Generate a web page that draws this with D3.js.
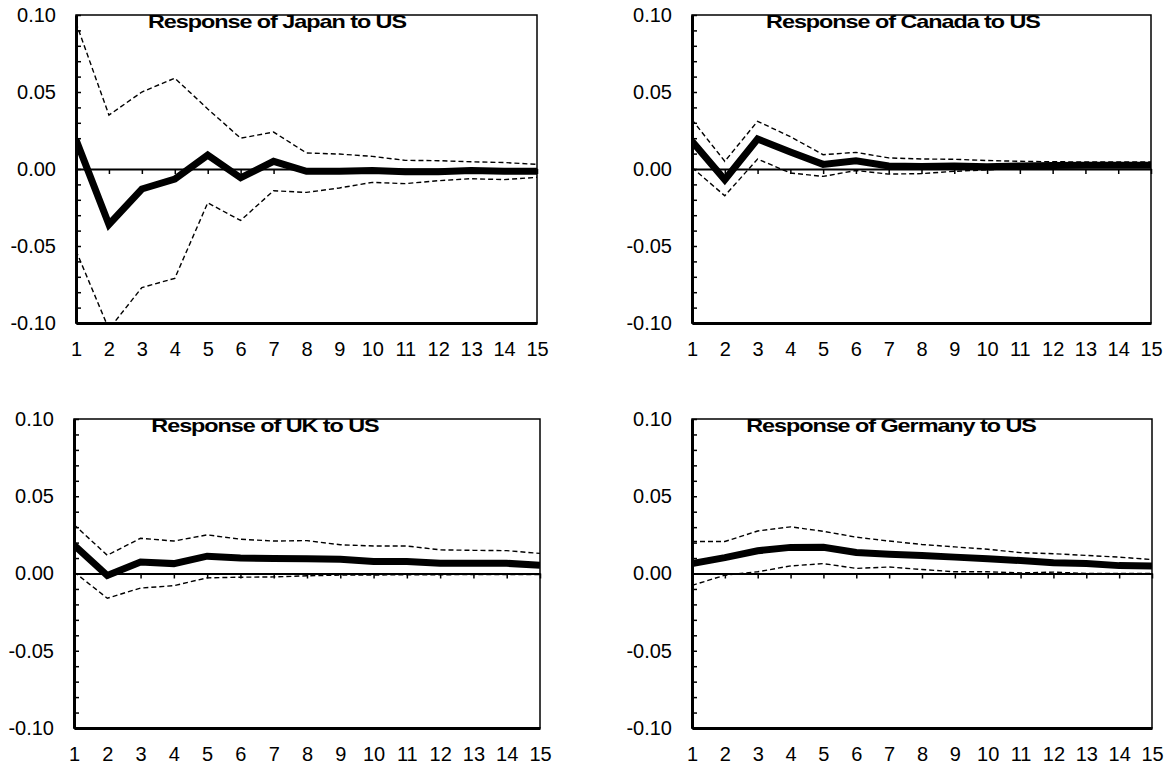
<!DOCTYPE html>
<html>
<head>
<meta charset="utf-8">
<script src="https://cdn.jsdelivr.net/npm/d3@7"></script>
<style>
  body { margin: 0; background: #fff; }
  svg { display: block; font-family: "Liberation Sans", Arial, sans-serif; }
</style>
</head>
<body>
<svg id="chart" width="1169" height="768"></svg>
<script>
const periods = [1, 2, 3, 4, 5, 6, 7, 8, 9, 10, 11, 12, 13, 14, 15];
const yTickValues = [0.10, 0.05, 0.00, -0.05, -0.10];

const japanMean  = [0.019, -0.036, -0.013, -0.0065, 0.009, -0.0057, 0.005, -0.0015, -0.0015, -0.001, -0.0018, -0.0018, -0.001, -0.0015, -0.0015];
const japanUpper = [0.095, 0.035, 0.050, 0.059, 0.039, 0.020, 0.024, 0.0104, 0.0097, 0.0082, 0.0056, 0.0054, 0.0047, 0.0042, 0.003];
const japanLower = [-0.053, -0.104, -0.077, -0.071, -0.022, -0.0334, -0.0141, -0.0152, -0.0123, -0.0087, -0.0095, -0.0076, -0.0063, -0.0069, -0.0054];

const canadaMean  = [0.018, -0.007, 0.0195, 0.011, 0.003, 0.0054, 0.002, 0.0017, 0.002, 0.0015, 0.002, 0.0022, 0.0025, 0.0025, 0.0025];
const canadaUpper = [0.032, 0.005, 0.031, 0.021, 0.0093, 0.0108, 0.0072, 0.0065, 0.0063, 0.0055, 0.005, 0.0047, 0.0046, 0.0045, 0.0045];
const canadaLower = [0.001, -0.0174, 0.0065, -0.0026, -0.0048, -0.001, -0.0033, -0.003, -0.0015, -0.0005, 0.0005, 0.001, 0.0012, 0.0013, 0.0013];

const ukMean  = [0.0184, -0.0013, 0.0074, 0.0064, 0.0112, 0.010, 0.0097, 0.0095, 0.0092, 0.0078, 0.0077, 0.0067, 0.0066, 0.0066, 0.0053];
const ukUpper = [0.0316, 0.0118, 0.0228, 0.021, 0.025, 0.0222, 0.021, 0.0213, 0.0186, 0.0178, 0.0178, 0.0153, 0.015, 0.0148, 0.013];
const ukLower = [0.001, -0.016, -0.0094, -0.0079, -0.0028, -0.0024, -0.0022, -0.0015, -0.001, -0.001, -0.0008, -0.0008, -0.0007, -0.0007, -0.0007];

const germanyMean  = [0.0064, 0.0103, 0.0147, 0.0169, 0.017, 0.0136, 0.0125, 0.0117, 0.0106, 0.0095, 0.0084, 0.007, 0.0064, 0.0051, 0.0048];
const germanyUpper = [0.0207, 0.0207, 0.0275, 0.0302, 0.0273, 0.0235, 0.021, 0.0188, 0.0172, 0.0157, 0.0135, 0.0128, 0.0117, 0.0106, 0.009];
const germanyLower = [-0.0077, -0.0011, 0.0011, 0.0049, 0.0064, 0.0033, 0.0042, 0.0026, 0.0011, 0.0011, 0.0004, 0.0009, 0, 0, 0];

const panels = [
  { title: 'Response of Japan to US', mean: japanMean, upper: japanUpper, lower: japanLower },
  { title: 'Response of Canada to US', mean: canadaMean, upper: canadaUpper, lower: canadaLower },
  { title: 'Response of UK to US', mean: ukMean, upper: ukUpper, lower: ukLower },
  { title: 'Response of Germany to US', mean: germanyMean, upper: germanyUpper, lower: germanyLower },
];

// where each plot box sits on the page
const layout = [
  { left: 76, right: 537, top: 15, bottom: 323, titleX: 201 },
  { left: 692, right: 1151, top: 15, bottom: 323, titleX: 211 },
  { left: 74, right: 540, top: 419, bottom: 728, titleX: 191 },
  { left: 692, right: 1152, top: 419, bottom: 728, titleX: 199 },
];

const svg = d3.select('#chart');
const fmt = (v) => v.toFixed(2);

panels.forEach((panel, i) => {
  const { left, right, top, bottom, titleX } = layout[i];
  const w = right - left;
  const h = bottom - top;

  const xScale = d3.scalePoint().domain(periods).range([0, w]);
  const yScale = d3.scaleLinear().domain([-0.1, 0.1]).range([h, 0]);

  const g = svg.append('g').attr('transform', `translate(${left},${top})`);

  // thin frame
  g.append('rect')
    .attr('width', w)
    .attr('height', h)
    .attr('fill', 'none')
    .attr('stroke', '#000')
    .attr('stroke-width', 1.5);

  // y labels
  const yAxis = g.append('g')
    .call(d3.axisLeft(yScale).tickValues(yTickValues).tickSize(0).tickPadding(20).tickFormat(fmt));
  yAxis.select('.domain').attr('stroke-width', 3);
  yAxis.selectAll('text')
    .attr('font-size', 20)
    .attr('font-family', '"Liberation Sans", Arial, sans-serif')
    .attr('fill', '#000');

  // minor ticks every 0.01, pointing into the box
  g.append('g')
    .call(d3.axisRight(yScale).ticks(20).tickSize(5).tickFormat(''))
    .call((ax) => ax.select('.domain').remove())
    .selectAll('line')
    .attr('stroke-width', 1.5);

  // x labels under the box
  const xAxis = g.append('g')
    .attr('transform', `translate(0,${h})`)
    .call(d3.axisBottom(xScale).tickSize(0).tickPadding(19));
  xAxis.select('.domain').attr('stroke-width', 3);
  xAxis.selectAll('text')
    .attr('font-size', 20)
    .attr('font-family', '"Liberation Sans", Arial, sans-serif')
    .attr('fill', '#000');

  // zero line with ticks hanging down
  const zeroAxis = g.append('g')
    .attr('transform', `translate(0,${yScale(0)})`)
    .call(d3.axisBottom(xScale).tickSize(5).tickSizeOuter(0).tickFormat(''));
  zeroAxis.select('.domain').attr('stroke-width', 2);
  zeroAxis.selectAll('line').attr('stroke-width', 1.5);

  const clipId = `clip-${i}`;
  g.append('clipPath')
    .attr('id', clipId)
    .append('rect')
    .attr('y', -2)
    .attr('width', w)
    .attr('height', h + 4);

  const line = d3.line()
    .x((d, k) => xScale(periods[k]))
    .y((d) => yScale(d));

  const series = [
    { values: panel.upper, width: 1.4, dash: '5,3' },
    { values: panel.lower, width: 1.4, dash: '5,3' },
    { values: panel.mean, width: 7, dash: null },
  ];

  g.append('g')
    .attr('clip-path', `url(#${clipId})`)
    .selectAll('path')
    .data(series)
    .enter()
    .append('path')
    .attr('d', (s) => line(s.values))
    .attr('fill', 'none')
    .attr('stroke', '#000')
    .attr('stroke-width', (s) => s.width)
    .attr('stroke-dasharray', (s) => s.dash)
    .attr('stroke-linejoin', 'miter');

  // titles are set tight and wide, like the original
  g.append('text')
    .attr('transform', `translate(${titleX},13) scale(1.3,1)`)
    .attr('text-anchor', 'middle')
    .attr('font-size', 18)
    .attr('font-weight', 'bold')
    .attr('letter-spacing', -0.8)
    .attr('fill', '#000')
    .text(panel.title);
});
</script>
</body>
</html>
